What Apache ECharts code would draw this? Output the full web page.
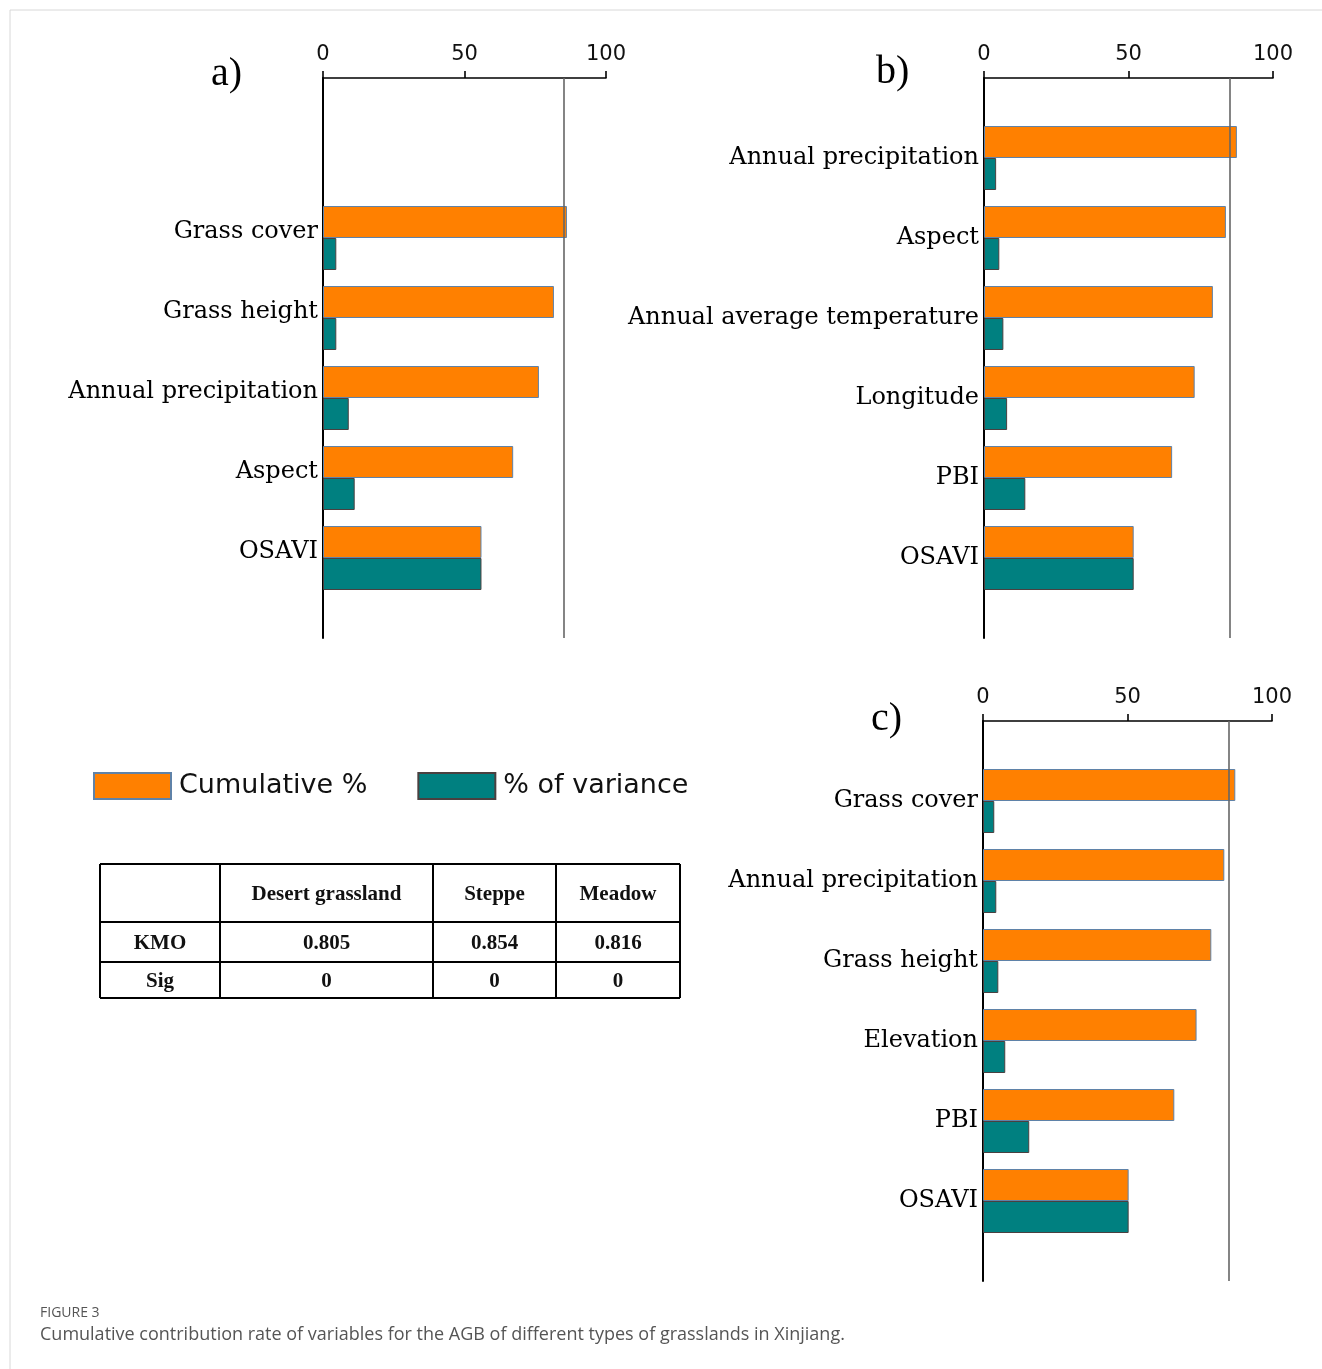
<!DOCTYPE html>
<html>
<head>
<meta charset="utf-8">
<title>Cumulative contribution rate of variables</title>
<script src="https://cdn.jsdelivr.net/npm/echarts@6/dist/echarts.min.js"></script>
<style>
  html, body { margin: 0; padding: 0; background: #fff; }
  #chart { width: 1322px; height: 1369px; }
</style>
</head>
<body>
<div id="chart"></div>
<script>
// ---- Data ----
const axisTicks = [0, 50, 100];
const THRESHOLD = 85;

// a) Desert grassland
const catsA = ['Grass cover', 'Grass height', 'Annual precipitation', 'Aspect', 'OSAVI'];
const cumA  = [86.2, 81.6, 76.3, 67.2, 56.0];
const varA  = [4.7, 4.7, 9.1, 11.2, 56.0];

// b) Steppe
const catsB = ['Annual precipitation', 'Aspect', 'Annual average temperature', 'Longitude', 'PBI', 'OSAVI'];
const cumB  = [87.5, 83.7, 79.2, 72.9, 65.1, 51.8];
const varB  = [4.2, 5.3, 6.7, 8.0, 14.3, 51.8];

// c) Meadow
const catsC = ['Grass cover', 'Annual precipitation', 'Grass height', 'Elevation', 'PBI', 'OSAVI'];
const cumC  = [87.3, 83.5, 79.0, 73.9, 66.2, 50.4];
const varC  = [3.9, 4.6, 5.3, 7.7, 16.0, 50.4];

// KMO / Bartlett table
const tableCols = ['Desert grassland', 'Steppe', 'Meadow'];
const tableRows = ['KMO', 'Sig'];
const kmoVals   = ['0.805', '0.854', '0.816'];
const sigVals   = ['0', '0', '0'];

const seriesNames = ['Cumulative %', '% of variance'];
const ORANGE = '#FF8000';
const TEAL = '#008080';

// ---- Layout helpers ----
const grids = [], xAxes = [], yAxes = [], series = [], graphics = [];

function addPanel(p) {
  const frameIdx = grids.length;
  // frame grid: top value axis + full-height left axis + threshold line
  grids.push({ left: p.left, top: p.frameTop, width: p.width, height: p.frameHeight, containLabel: false });
  xAxes.push({
    gridIndex: frameIdx, type: 'value', position: 'top',
    min: axisTicks[0], max: axisTicks[axisTicks.length - 1], interval: axisTicks[1] - axisTicks[0],
    axisLine: { show: true, onZero: false, lineStyle: { color: '#000', width: 1.6 } },
    axisTick: { show: true, inside: false, length: 7, lineStyle: { color: '#000', width: 1.6 } },
    axisLabel: { margin: 13, fontSize: 21, fontFamily: 'DejaVu Sans', color: '#111' },
    splitLine: { show: false }
  });
  yAxes.push({
    gridIndex: frameIdx, type: 'value', min: 0, max: 1,
    axisLine: { show: true, onZero: false, lineStyle: { color: '#000', width: 2 } },
    axisTick: { show: false }, axisLabel: { show: false }, splitLine: { show: false }
  });
  series.push({
    type: 'line', xAxisIndex: frameIdx, yAxisIndex: frameIdx, data: [], silent: true,
    markLine: {
      silent: true, symbol: 'none', label: { show: false },
      lineStyle: { color: '#666', width: 1.6, type: 'solid' },
      data: [{ xAxis: THRESHOLD }]
    }
  });

  // data grid: category bars
  const dataIdx = grids.length;
  grids.push({ left: p.left, top: p.dataTop, width: p.width, height: p.dataHeight, containLabel: false });
  xAxes.push({ gridIndex: dataIdx, type: 'value', min: 0, max: 100, show: false });
  yAxes.push({
    gridIndex: dataIdx, type: 'category', data: p.cats, inverse: true,
    axisLine: { show: false }, axisTick: { show: false },
    axisLabel: Object.assign({
      margin: 5, fontSize: 24, fontFamily: 'DejaVu Serif', color: '#000'
    }, p.labelAlign)
  });
  series.push({
    name: seriesNames[0], type: 'bar', xAxisIndex: dataIdx, yAxisIndex: dataIdx,
    data: p.cum, barWidth: 32, barGap: '0%',
    itemStyle: { color: ORANGE, borderColor: '#5f82a8', borderWidth: 1 }
  });
  series.push({
    name: seriesNames[1], type: 'bar', xAxisIndex: dataIdx, yAxisIndex: dataIdx,
    data: p.vari, barWidth: 32, barGap: '0%',
    itemStyle: { color: TEAL, borderColor: '#4a4040', borderWidth: 1 }
  });

  graphics.push({
    type: 'text', left: p.tagX, top: p.tagY,
    style: { text: p.tag, font: '40px "Liberation Serif"', fill: '#000' }
  });
}

addPanel({ tag: 'a)', tagX: 211, tagY: 54, left: 323, width: 283,
  frameTop: 78, frameHeight: 560, dataTop: 198, dataHeight: 400,
  labelAlign: { verticalAlign: 'bottom', lineHeight: 13 },
  cats: catsA, cum: cumA, vari: varA });
addPanel({ tag: 'b)', tagX: 876, tagY: 52, left: 984, width: 289,
  frameTop: 78, frameHeight: 560, dataTop: 118, dataHeight: 480,
  labelAlign: { verticalAlign: 'middle', padding: [0, 0, 4, 0] },
  cats: catsB, cum: cumB, vari: varB });
addPanel({ tag: 'c)', tagX: 871, tagY: 699, left: 983, width: 289,
  frameTop: 721, frameHeight: 560, dataTop: 761, dataHeight: 480,
  labelAlign: { verticalAlign: 'middle', padding: [0, 0, 4, 0] },
  cats: catsC, cum: cumC, vari: varC });

// ---- Table ----
const colX = [100, 220, 433, 556, 680];
const rowY = [864, 922, 962, 998];
const lineStyle = { stroke: '#000', lineWidth: 2 };
rowY.forEach(y => graphics.push({ type: 'line', shape: { x1: colX[0], y1: y, x2: colX[colX.length - 1], y2: y }, style: lineStyle }));
colX.forEach(x => graphics.push({ type: 'line', shape: { x1: x, y1: rowY[0], x2: x, y2: rowY[rowY.length - 1] }, style: lineStyle }));

function cellText(text, ci, ri) {
  const cx = (colX[ci] + colX[ci + 1]) / 2;
  const cy = (rowY[ri] + rowY[ri + 1]) / 2 + 2;
  graphics.push({
    type: 'text', x: cx, y: cy,
    style: { text: text, font: 'bold 21px "Liberation Serif"', fill: '#111', align: 'center', verticalAlign: 'middle' }
  });
}
tableCols.forEach((t, i) => cellText(t, i + 1, 0));
tableRows.forEach((t, i) => cellText(t, 0, i + 1));
kmoVals.forEach((t, i) => cellText(t, i + 1, 1));
sigVals.forEach((t, i) => cellText(t, i + 1, 2));

// ---- Figure frame and caption ----
graphics.unshift({
  type: 'polyline', shape: { points: [[10, 1369], [10, 10], [1322, 10]] },
  style: { stroke: '#d8d8d8', lineWidth: 1, fill: null }
});
graphics.push({
  type: 'text', left: 40, top: 1306,
  style: { text: 'FIGURE 3', font: '14px "Open Sans"', fill: '#555' }
});
graphics.push({
  type: 'text', left: 40, top: 1326,
  style: { text: 'Cumulative contribution rate of variables for the AGB of different types of grasslands in Xinjiang.',
    font: '18px "Open Sans"', fill: '#555' }
});

const chart = echarts.init(document.getElementById('chart'), null, { renderer: 'canvas' });
chart.setOption({
  animation: false,
  backgroundColor: '#fff',
  legend: {
    data: seriesNames, left: 88, top: 767, itemWidth: 77, itemHeight: 26, itemGap: 50,
    icon: 'rect',
    textStyle: { fontSize: 27, fontFamily: 'DejaVu Sans', color: '#111', padding: [0, 0, 0, 3] },
    selectedMode: false
  },
  grid: grids,
  xAxis: xAxes,
  yAxis: yAxes,
  series: series,
  graphic: graphics
});
</script>
</body>
</html>
